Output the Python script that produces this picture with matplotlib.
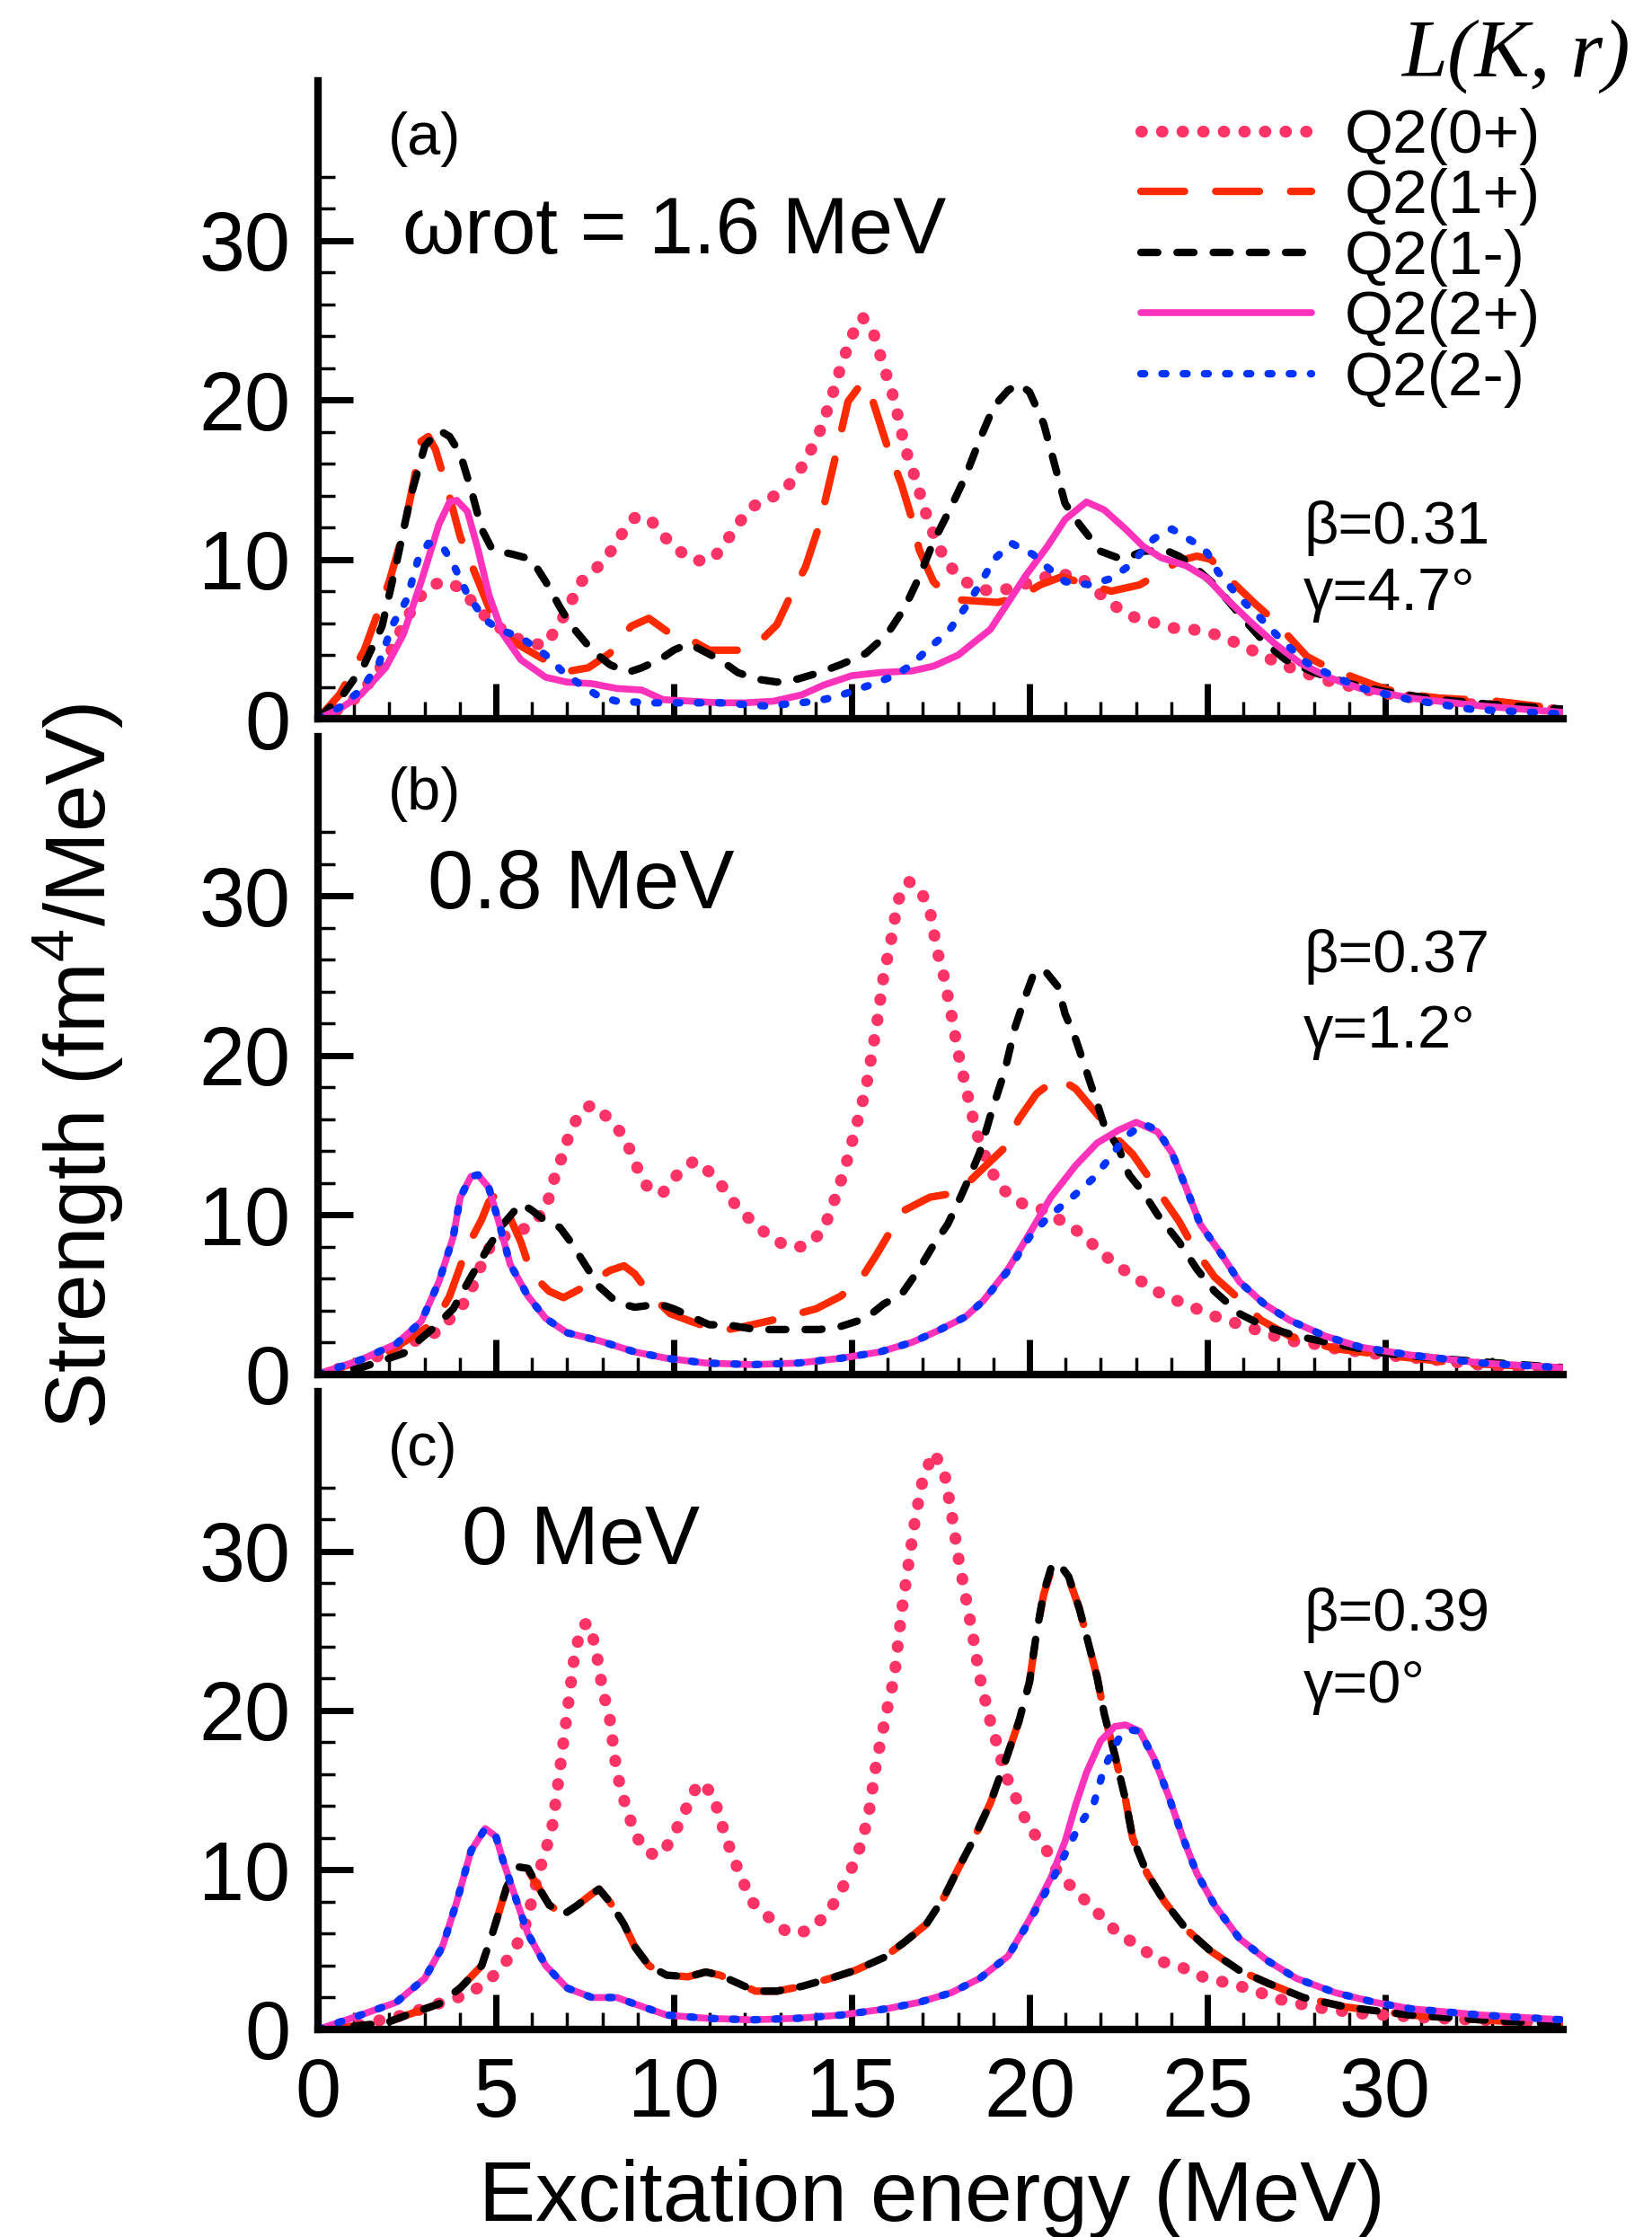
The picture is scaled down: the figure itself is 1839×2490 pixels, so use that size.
# Strength functions Q2(K,r) for three rotational frequencies, panels (a)-(c)

import numpy as np
import matplotlib.pyplot as plt
from matplotlib.ticker import FixedLocator

plt.rcParams['font.family'] = ['Liberation Sans', 'DejaVu Sans']
plt.rcParams['mathtext.fontset'] = 'custom'
plt.rcParams['mathtext.rm'] = 'Liberation Sans'
plt.rcParams['mathtext.it'] = 'Liberation Sans:italic'
plt.rcParams['mathtext.bf'] = 'Liberation Sans:bold'
plt.rcParams['lines.scale_dashes'] = False
plt.rcParams['lines.dash_capstyle'] = 'round'
plt.rcParams['lines.solid_capstyle'] = 'round'
plt.rcParams['lines.dash_joinstyle'] = 'round'
plt.rcParams['lines.solid_joinstyle'] = 'round'

#%% data: excitation energy (MeV) / strength (fm^4/MeV)

# (a) omega_rot = 1.6 MeV
e_a_0p = [0, 0.5, 1.0, 1.5, 2.0, 2.4, 2.8, 3.2, 3.6, 4.0,
          4.5, 4.8, 5.3, 5.8, 6.4, 6.9, 7.4, 7.9, 8.3, 8.6,
          8.9, 9.3, 9.7, 10.1, 10.6, 11.1, 11.5, 11.8, 12.2, 12.6,
          13.1, 13.5, 13.8, 14.1, 14.4, 14.7, 15.0, 15.3, 15.6, 15.9,
          16.2, 16.5, 16.8, 17.1, 17.4, 17.7, 18.2, 18.6, 19.1, 19.7,
          20.3, 20.8, 21.4, 21.8, 22.3, 22.9, 23.4, 24.0, 24.6, 25.2,
          26.0, 26.5, 27.1, 27.7, 28.5, 29.5, 30.5, 32.0, 33.5, 35.0]
s_a_0p = [0, 0.5, 1.2, 2.4, 4.0, 5.9, 7.5, 8.4, 8.6, 8.2,
          6.9, 6.2, 5.4, 4.8, 4.6, 6.4, 8.6, 9.6, 10.7, 11.8,
          12.6, 12.6, 11.5, 10.6, 9.9, 10.0, 11.2, 12.2, 13.3, 13.7,
          14.3, 15.4, 16.6, 18.0, 19.9, 22.1, 24.0, 25.2, 24.3, 22.1,
          20.0, 17.0, 15.0, 12.8, 11.0, 9.7, 8.6, 8.1, 8.0, 8.3,
          8.8, 9.1, 8.9, 8.2, 7.2, 6.4, 6.1, 5.7, 5.6, 5.3,
          4.6, 4.0, 3.4, 2.9, 2.3, 1.8, 1.4, 1.0, 0.7, 0.5]

e_a_1p = [0, 0.6, 1.3, 2.0, 2.4, 2.7, 2.9, 3.1, 3.3, 3.7,
          4.0, 4.4, 4.8, 5.3, 5.9, 6.6, 7.1, 7.6, 8.2, 8.8,
          9.3, 9.8, 10.6, 11.0, 11.8, 12.4, 12.9, 13.3, 13.7, 14.1,
          14.5, 14.9, 15.3, 15.6, 16.0, 16.4, 16.7, 16.9, 17.3, 17.8,
          18.4, 19.1, 19.7, 20.3, 20.9, 21.5, 22.3, 23.1, 23.7, 24.2,
          24.7, 25.1, 25.6, 26.3, 26.9, 27.8, 28.4, 29.7, 30.4, 31.5,
          33.1, 35.0]
s_a_1p = [0, 1.5, 4.3, 8.6, 11.7, 15.0, 17.4, 17.7, 16.9, 13.9,
          11.4, 9.2, 7.0, 5.1, 4.3, 3.4, 3.0, 3.2, 4.1, 5.8,
          6.3, 5.5, 4.8, 4.3, 4.3, 4.8, 5.9, 7.8, 9.5, 12.2,
          16.0, 19.9, 21.1, 19.9, 17.1, 14.7, 12.5, 10.6, 8.6, 7.5,
          7.4, 7.3, 7.6, 8.4, 8.9, 8.5, 8.0, 8.4, 9.2, 9.9,
          10.2, 10.0, 8.8, 7.3, 6.1, 3.9, 3.2, 2.1, 1.6, 1.3,
          1.1, 0.6]

e_a_1m = [0, 0.7, 1.3, 1.8, 2.2, 2.6, 3.0, 3.4, 3.7, 4.0,
          4.3, 4.6, 4.9, 5.5, 6.0, 6.4, 6.8, 7.1, 7.7, 8.2,
          8.7, 9.1, 9.6, 10.0, 10.4, 10.7, 11.3, 11.8, 12.3, 12.9,
          13.5, 14.1, 14.7, 15.4, 16.0, 16.5, 16.9, 17.3, 17.8, 18.2,
          18.6, 19.0, 19.4, 19.7, 20.0, 20.4, 20.7, 21.0, 21.4, 22.0,
          22.6, 23.2, 23.8, 24.2, 24.6, 25.2, 26.0, 26.6, 27.2, 28.0,
          29.0, 30.0, 31.5, 33.0, 35.0]
s_a_1m = [0, 1.5, 3.4, 5.8, 9.7, 13.9, 17.1, 18.1, 17.7, 16.6,
          14.4, 11.9, 10.6, 10.3, 10.0, 8.6, 7.0, 5.9, 4.3, 3.4,
          2.9, 3.2, 3.7, 4.3, 4.7, 4.4, 3.7, 2.9, 2.5, 2.3,
          2.5, 2.9, 3.4, 4.1, 5.3, 7.0, 8.9, 11.1, 13.3, 15.2,
          17.5, 19.6, 20.6, 21.0, 20.5, 18.5, 16.0, 13.5, 12.2, 10.5,
          10.0, 10.5, 10.6, 10.2, 9.6, 8.4, 6.3, 4.8, 3.7, 2.9,
          2.2, 1.7, 1.2, 0.9, 0.6]

e_a_2p = [0, 0.6, 1.2, 1.9, 2.4, 2.9, 3.4, 3.7, 3.9, 4.2,
          4.5, 4.8, 5.2, 5.7, 6.4, 7.0, 7.7, 8.4, 9.1, 9.7,
          10.5, 11.3, 12.0, 12.8, 13.6, 14.2, 15.0, 15.8, 16.7, 17.3,
          18.0, 18.5, 18.9, 19.4, 19.9, 20.5, 21.0, 21.6, 22.1, 22.7,
          23.2, 23.7, 24.4, 25.0, 25.5, 26.2, 26.9, 27.6, 28.4, 29.3,
          30.7, 32.7, 35.0]
s_a_2p = [0, 0.6, 1.5, 3.2, 5.3, 8.6, 12.2, 13.6, 13.7, 13.0,
          10.6, 7.8, 5.3, 3.7, 2.6, 2.3, 2.2, 1.9, 1.8, 1.2,
          1.1, 1.0, 1.0, 1.1, 1.5, 2.1, 2.7, 2.9, 3.0, 3.3,
          4.0, 4.9, 5.6, 7.3, 9.0, 10.8, 12.5, 13.6, 13.1, 11.9,
          10.8, 10.1, 9.6, 8.8, 7.6, 6.1, 4.7, 3.5, 2.6, 1.9,
          1.3, 0.8, 0.4]

e_a_2m = [0, 0.6, 1.2, 1.7, 2.1, 2.5, 2.8, 3.1, 3.5, 3.8,
          4.2, 4.7, 5.1, 5.7, 6.4, 6.9, 7.4, 7.9, 8.4, 9.3,
          10.2, 11.3, 12.6, 14.0, 14.6, 15.5, 16.2, 16.7, 17.2, 17.7,
          18.2, 18.6, 19.0, 19.5, 20.1, 20.5, 21.0, 21.7, 22.3, 22.8,
          23.5, 24.0, 24.6, 25.0, 25.3, 25.9, 26.5, 27.1, 27.8, 28.6,
          29.5, 30.7, 32.4, 35.0]
s_a_2m = [0, 0.7, 1.8, 3.4, 5.9, 7.5, 9.9, 11.0, 10.8, 9.7,
          7.8, 6.2, 5.6, 5.1, 4.0, 2.9, 2.1, 1.4, 1.1, 1.0,
          1.0, 1.0, 0.8, 1.1, 1.4, 2.1, 2.7, 3.4, 4.5, 5.4,
          7.0, 8.4, 10.0, 11.0, 10.3, 9.5, 8.6, 8.4, 8.8, 9.6,
          11.3, 11.9, 11.1, 10.4, 9.2, 7.6, 6.3, 4.9, 3.5, 2.6,
          1.8, 1.2, 0.6, 0.3]

# (b) omega_rot = 0.8 MeV
e_b_0p = [0, 1.2, 2.2, 3.4, 4.2, 4.6, 4.9, 5.5, 5.9, 6.4,
          6.6, 6.9, 7.1, 7.4, 7.7, 8.2, 8.6, 8.9, 9.1, 9.4,
          9.7, 10.2, 10.6, 11.1, 11.5, 11.8, 12.2, 12.7, 13.2, 13.7,
          14.2, 14.5, 14.8, 15.1, 15.4, 15.7, 15.9, 16.1, 16.3, 16.6,
          16.9, 17.2, 17.4, 17.6, 17.8, 18.0, 18.2, 18.5, 18.9, 19.3,
          19.8, 20.4, 20.9, 21.4, 21.9, 22.3, 22.8, 23.3, 23.8, 24.4,
          25.0, 25.5, 26.1, 26.6, 27.3, 28.0, 28.6, 30.0, 31.4, 33.4,
          35.0]
s_b_0p = [0, 0.7, 1.6, 2.7, 4.7, 6.9, 8.3, 8.9, 9.2, 10.3,
          12.0, 13.9, 15.3, 16.5, 16.9, 16.0, 14.9, 13.4, 12.2, 11.4,
          11.4, 12.8, 13.4, 12.5, 11.4, 10.4, 9.6, 8.6, 8.0, 8.0,
          9.0, 10.8, 12.8, 15.3, 17.9, 21.8, 25.0, 27.1, 29.7, 30.9,
          30.5, 29.1, 26.6, 24.9, 22.6, 20.1, 18.1, 15.2, 12.8, 11.5,
          10.7, 10.3, 9.6, 8.9, 7.9, 7.1, 6.3, 5.6, 4.9, 4.4,
          3.8, 3.4, 3.0, 2.6, 2.1, 1.9, 1.6, 1.2, 0.9, 0.4,
          0.3]

e_b_1p = [0, 1.9, 2.9, 3.3, 3.7, 4.2, 4.6, 4.8, 5.0, 5.3,
          5.7, 6.0, 6.5, 6.9, 7.5, 8.2, 8.6, 8.9, 9.3, 9.9,
          10.5, 11.3, 12.0, 12.8, 13.5, 14.0, 14.7, 15.3, 15.7, 16.1,
          16.5, 17.2, 18.0, 18.5, 19.3, 19.7, 20.2, 20.8, 21.3, 21.9,
          22.4, 22.9, 23.4, 24.2, 24.6, 25.2, 26.0, 26.5, 27.3, 28.6,
          30.0, 32.0, 35.0]
s_b_1p = [0, 1.3, 2.7, 3.3, 4.9, 8.0, 9.7, 10.8, 11.3, 10.3,
          8.3, 6.3, 5.2, 4.8, 5.5, 6.5, 6.8, 6.3, 5.1, 3.8,
          3.3, 2.7, 3.0, 3.4, 3.8, 4.1, 4.9, 6.1, 7.5, 9.0,
          10.3, 11.1, 11.4, 12.5, 14.2, 16.0, 17.6, 18.6, 17.9, 16.3,
          14.9, 13.8, 12.2, 9.6, 8.0, 6.1, 4.5, 3.4, 2.4, 1.6,
          1.2, 0.7, 0.4]

e_b_1m = [0, 1.2, 2.4, 3.3, 3.8, 4.3, 4.8, 5.2, 5.7, 6.0,
          6.4, 6.8, 7.1, 7.5, 7.9, 8.4, 8.9, 9.6, 10.0, 10.4,
          11.0, 11.5, 12.3, 13.1, 14.1, 14.7, 15.4, 15.9, 16.4, 16.9,
          17.3, 17.7, 18.0, 18.3, 18.6, 18.9, 19.3, 19.6, 19.9, 20.1,
          20.4, 20.8, 21.0, 21.3, 21.6, 21.9, 22.1, 22.5, 22.8, 23.2,
          23.6, 24.2, 24.7, 25.2, 25.9, 26.6, 27.5, 28.6, 30.0, 32.0,
          35.0]
s_b_1m = [0, 0.4, 1.3, 3.0, 4.1, 6.1, 8.0, 9.4, 10.7, 10.3,
          9.6, 9.2, 8.3, 6.9, 5.5, 4.5, 4.2, 4.4, 4.1, 3.7,
          3.1, 3.1, 2.8, 2.8, 2.8, 3.0, 3.5, 4.4, 5.0, 6.6,
          8.1, 9.4, 10.8, 12.3, 13.9, 16.2, 19.0, 21.8, 23.8, 25.0,
          25.4, 24.3, 22.6, 21.0, 19.0, 17.0, 15.6, 14.2, 12.5, 11.4,
          10.0, 8.3, 6.6, 5.2, 3.8, 3.0, 2.4, 1.9, 1.3, 0.9,
          0.4]

e_b_2p = [0, 1.2, 2.2, 2.9, 3.4, 3.8, 4.0, 4.3, 4.5, 4.8,
          5.1, 5.4, 5.9, 6.4, 7.0, 7.9, 8.9, 9.8, 10.9, 12.2,
          13.5, 14.7, 15.8, 16.7, 17.4, 18.2, 18.7, 19.4, 20.1, 20.6,
          21.3, 21.9, 22.5, 23.0, 23.6, 24.0, 24.4, 24.8, 25.4, 25.9,
          26.6, 27.3, 28.3, 29.3, 30.7, 32.7, 35.0]
s_b_2p = [0, 0.9, 1.9, 3.3, 5.8, 8.6, 11.1, 12.4, 12.5, 11.7,
          9.4, 6.9, 4.9, 3.5, 2.6, 2.1, 1.4, 1.0, 0.7, 0.6,
          0.7, 1.0, 1.4, 2.0, 2.7, 3.6, 4.6, 6.6, 9.2, 11.1,
          13.1, 14.5, 15.3, 15.8, 15.2, 13.9, 11.7, 9.4, 7.5, 5.8,
          4.4, 3.4, 2.4, 1.7, 1.2, 0.7, 0.4]

e_b_2m = [0, 1.2, 2.2, 2.9, 3.4, 3.8, 4.0, 4.3, 4.5, 4.8,
          5.1, 5.4, 5.9, 6.4, 7.0, 7.9, 8.9, 9.8, 10.9, 12.2,
          13.5, 14.7, 15.8, 16.7, 17.4, 18.2, 18.7, 19.4, 20.0, 20.5,
          21.2, 21.8, 22.3, 22.7, 23.2, 23.6, 24.0, 24.4, 24.8, 25.4,
          25.9, 26.6, 27.3, 28.3, 29.3, 30.7, 32.7, 35.0]
s_b_2m = [0, 0.9, 1.9, 3.3, 5.8, 8.6, 11.1, 12.4, 12.5, 11.7,
          9.4, 6.9, 4.9, 3.5, 2.6, 2.1, 1.4, 1.0, 0.7, 0.6,
          0.7, 1.0, 1.4, 2.0, 2.7, 3.6, 4.6, 6.5, 8.6, 9.8,
          11.1, 12.3, 13.7, 14.9, 15.7, 15.3, 13.9, 11.7, 9.4, 7.5,
          5.8, 4.4, 3.4, 2.4, 1.7, 1.2, 0.7, 0.4]

# (c) omega_rot = 0
e_c_0p = [0, 1.2, 2.4, 3.5, 4.2, 4.7, 5.1, 5.5, 5.8, 6.0,
          6.2, 6.4, 6.6, 6.8, 7.0, 7.2, 7.4, 7.6, 7.8, 8.0,
          8.2, 8.4, 8.6, 8.9, 9.2, 9.5, 9.7, 10.0, 10.4, 10.7,
          11.1, 11.3, 11.6, 11.9, 12.2, 12.6, 12.9, 13.3, 13.8, 14.2,
          14.6, 15.0, 15.3, 15.5, 15.7, 16.0, 16.2, 16.4, 16.6, 16.8,
          17.0, 17.3, 17.6, 17.8, 18.0, 18.2, 18.4, 18.6, 18.9, 19.1,
          19.3, 19.7, 20.0, 20.4, 20.8, 21.2, 21.7, 22.1, 22.5, 23.1,
          23.6, 24.2, 24.7, 25.4, 26.1, 27.0, 28.0, 29.3, 31.4, 35.0]
s_c_0p = [0, 0.3, 0.9, 1.7, 2.2, 2.9, 3.7, 4.9, 6.3, 8.0,
          9.8, 11.2, 12.9, 16.3, 19.8, 23.3, 25.3, 25.5, 24.0, 21.3,
          19.5, 16.1, 14.4, 12.3, 11.2, 10.9, 11.1, 12.2, 14.1, 15.5,
          14.8, 13.2, 11.2, 9.5, 8.0, 7.2, 6.5, 6.0, 6.2, 7.0,
          8.2, 10.1, 11.8, 13.8, 16.8, 20.1, 22.1, 26.1, 29.2, 32.2,
          34.5, 36.2, 35.0, 32.5, 29.6, 27.2, 24.8, 22.1, 19.3, 17.8,
          16.1, 14.1, 12.6, 11.6, 9.8, 8.9, 7.8, 6.9, 6.0, 5.2,
          4.3, 4.0, 3.4, 3.0, 2.6, 1.9, 1.4, 1.0, 0.7, 0.4]

e_c_1p = [0, 1.9, 2.5, 3.4, 4.0, 4.6, 4.9, 5.3, 5.6, 5.9,
          6.2, 6.5, 6.9, 7.3, 7.7, 7.9, 8.2, 8.6, 8.9, 9.3,
          9.8, 10.4, 10.9, 11.3, 11.8, 12.3, 12.9, 13.6, 14.4, 15.1,
          15.9, 16.5, 17.1, 17.6, 18.0, 18.4, 18.9, 19.3, 19.7, 20.0,
          20.2, 20.4, 20.6, 20.8, 21.1, 21.4, 21.6, 21.9, 22.1, 22.4,
          22.7, 22.9, 23.3, 23.8, 24.4, 25.1, 25.9, 26.7, 27.7, 28.9,
          30.7, 32.7, 35.0]
s_c_1p = [0, 0.4, 0.9, 1.6, 2.6, 4.0, 6.0, 8.9, 10.1, 10.0,
          8.9, 7.8, 7.2, 7.8, 8.5, 8.8, 8.0, 6.6, 5.2, 4.0,
          3.4, 3.3, 3.6, 3.4, 2.9, 2.4, 2.4, 2.7, 3.2, 3.7,
          4.5, 5.5, 6.6, 8.3, 10.1, 11.8, 14.2, 16.7, 19.3, 21.8,
          24.9, 27.3, 28.7, 29.0, 28.3, 26.4, 24.7, 22.1, 19.8, 17.2,
          14.4, 12.0, 9.8, 8.0, 6.3, 4.9, 3.7, 2.9, 2.0, 1.4,
          0.9, 0.6, 0.3]

e_c_1m = [0, 1.9, 2.5, 3.4, 4.0, 4.6, 4.9, 5.3, 5.6, 5.9,
          6.2, 6.5, 6.9, 7.3, 7.7, 7.9, 8.2, 8.6, 8.9, 9.3,
          9.8, 10.4, 10.9, 11.3, 11.8, 12.3, 12.9, 13.6, 14.4, 15.1,
          15.9, 16.5, 17.1, 17.6, 18.0, 18.4, 18.9, 19.3, 19.7, 20.0,
          20.2, 20.4, 20.6, 20.8, 21.1, 21.4, 21.6, 21.9, 22.1, 22.4,
          22.7, 22.9, 23.3, 23.8, 24.4, 25.1, 25.9, 26.7, 27.7, 28.9,
          30.7, 32.7, 35.0]
s_c_1m = [0, 0.4, 0.9, 1.6, 2.6, 4.0, 6.0, 8.9, 10.2, 10.1,
          8.9, 7.8, 7.2, 7.8, 8.5, 8.8, 8.0, 6.6, 5.2, 4.0,
          3.4, 3.3, 3.6, 3.4, 2.9, 2.4, 2.4, 2.7, 3.2, 3.7,
          4.5, 5.5, 6.6, 8.3, 10.1, 11.8, 14.2, 16.7, 19.3, 21.8,
          24.9, 27.4, 28.9, 29.3, 28.4, 26.4, 24.7, 22.1, 19.8, 17.2,
          14.4, 12.0, 9.8, 8.0, 6.3, 4.9, 3.7, 2.9, 2.0, 1.4,
          0.9, 0.6, 0.3]

e_c_2p = [0, 1.2, 2.2, 3.0, 3.5, 3.9, 4.3, 4.7, 5.0, 5.2,
          5.5, 5.9, 6.4, 7.0, 7.7, 8.4, 8.9, 9.8, 10.9, 12.2,
          13.5, 14.7, 16.0, 16.9, 17.8, 18.6, 19.4, 20.0, 20.6, 21.0,
          21.3, 21.6, 22.0, 22.4, 22.7, 23.1, 23.5, 23.9, 24.3, 24.7,
          25.2, 25.9, 26.7, 27.5, 28.6, 29.7, 30.7, 32.7, 35.0]
s_c_2p = [0, 0.9, 1.7, 3.2, 5.2, 8.0, 11.2, 12.6, 12.1, 10.6,
          8.6, 6.0, 4.0, 2.6, 2.0, 2.0, 1.6, 0.9, 0.7, 0.6,
          0.7, 0.9, 1.3, 1.7, 2.3, 3.2, 4.6, 6.9, 9.5, 11.8,
          14.1, 16.1, 18.1, 19.0, 19.1, 18.7, 17.0, 14.7, 12.1, 9.8,
          7.8, 5.7, 4.3, 3.2, 2.3, 1.7, 1.3, 0.9, 0.6]

e_c_2m = [0, 1.2, 2.2, 3.0, 3.5, 3.9, 4.3, 4.7, 5.0, 5.2,
          5.5, 5.9, 6.4, 7.0, 7.7, 8.4, 8.9, 9.8, 10.9, 12.2,
          13.5, 14.7, 16.0, 16.9, 17.8, 18.6, 19.4, 20.0, 20.6, 21.0,
          21.4, 21.8, 22.1, 22.5, 22.8, 23.1, 23.5, 23.9, 24.3, 24.7,
          25.2, 25.9, 26.7, 27.5, 28.6, 29.7, 30.7, 32.7, 35.0]
s_c_2m = [0, 0.9, 1.7, 3.2, 5.2, 8.0, 11.2, 12.6, 12.1, 10.6,
          8.6, 6.0, 4.0, 2.6, 2.0, 2.0, 1.6, 0.9, 0.7, 0.6,
          0.7, 0.9, 1.3, 1.7, 2.3, 3.2, 4.6, 6.8, 9.2, 11.0,
          12.8, 14.1, 16.4, 18.2, 18.8, 18.7, 17.0, 14.7, 12.1, 9.8,
          7.8, 5.7, 4.3, 3.2, 2.3, 1.7, 1.3, 0.9, 0.6]

labels = ['Q2(0+)', 'Q2(1+)', 'Q2(1-)', 'Q2(2+)', 'Q2(2-)']
panel_tags = ['(a)', '(b)', '(c)']
omega_text = ['\u03c9rot = 1.6 MeV', '0.8 MeV', '0 MeV']
beta_text = ['\u03b2=0.31', '\u03b2=0.37', '\u03b2=0.39']
gamma_text = ['\u03b3=4.7\u00b0', '\u03b3=1.2\u00b0', '\u03b3=0\u00b0']

#%% styles
colors = ['#ff3366', '#ff2a00', 'black', '#ff33bb', '#0033ff']
widths = [9.5, 6.0, 6.0, 5.5, 6.0]
styles = [(0, (0.5, 16.0)), (0, (35.0, 25.0)), (0, (13.5, 15.5)), '-', (0, (3.0, 14.0))]

panels = [
    [(e_a_0p, s_a_0p), (e_a_1p, s_a_1p), (e_a_1m, s_a_1m), (e_a_2p, s_a_2p), (e_a_2m, s_a_2m)],
    [(e_b_0p, s_b_0p), (e_b_1p, s_b_1p), (e_b_1m, s_b_1m), (e_b_2p, s_b_2p), (e_b_2m, s_b_2m)],
    [(e_c_0p, s_c_0p), (e_c_1p, s_c_1p), (e_c_1m, s_c_1m), (e_c_2p, s_c_2p), (e_c_2m, s_c_2m)],
]

fig = plt.figure(figsize=(18.39, 24.90), dpi=100)

left, width, height = 0.1925, 0.7537, 0.2851
bottoms = [0.6787, 0.3857, 0.0928]
omega_x = [2.37, 3.08, 4.04]
omega_size = [64, 66, 66]
beta_y = [(11.0, 6.8), (25.2, 20.5), (25.0, 20.5)]

axes = []
for i in range(3):
    ax = fig.add_axes([left, bottoms[i], width, height])
    for k in range(5):
        e, s = panels[i][k]
        ax.plot(e, s, color=colors[k], lw=widths[k], linestyle=styles[k], label=labels[k])

    ax.set_xlim(0, 35)
    ax.set_ylim(0, 40)
    ax.spines['top'].set_visible(False)
    ax.spines['right'].set_visible(False)
    for sp in ['left', 'bottom']:
        ax.spines[sp].set_linewidth(6)
        ax.spines[sp].set_capstyle('projecting')

    ax.xaxis.set_major_locator(FixedLocator([0, 5, 10, 15, 20, 25, 30]))
    ax.xaxis.set_minor_locator(FixedLocator([v for v in range(1, 34) if v % 5]))
    ax.yaxis.set_major_locator(FixedLocator([0, 10, 20, 30]))
    ax.yaxis.set_minor_locator(FixedLocator([v for v in range(2, 35, 2) if v % 10]))
    ax.tick_params(which='major', direction='in', length=28, width=5, labelsize=66, pad=22,
                   top=False, right=False)
    ax.tick_params(which='minor', direction='in', length=14, width=2.5, top=False, right=False)
    if i < 2:
        ax.tick_params(labelbottom=False)

    ax.text(1.97, 35.4, panel_tags[i], fontsize=48, va='baseline')
    ax.text(omega_x[i], 29.2, omega_text[i], fontsize=omega_size[i], va='baseline')
    ax.text(27.7, beta_y[i][0], beta_text[i], fontsize=48, va='baseline')
    ax.text(27.7, beta_y[i][1], gamma_text[i], fontsize=48, va='baseline')
    axes.append(ax)

handles, labs = axes[0].get_legend_handles_labels()
fig.legend(handles, labs, loc='upper left', bbox_to_anchor=(1270 / 1839, 1 - 120 / 2490),
           frameon=False, fontsize=50, handlelength=2.74, handletextpad=0.52,
           labelspacing=0.05, borderpad=0, borderaxespad=0)

fig.text(1815 / 1839, 1 - 85 / 2490, 'L(K, r)', family='Liberation Serif', style='italic',
         fontsize=66, ha='right', va='baseline')

fig.text(0.564, 0.0072, 'Excitation energy (MeV)', fontsize=68, ha='center', va='baseline')
fig.text(0.0473, 0.5233, r'Strength (fm$^{\mathrm{4}}$/MeV)', fontsize=68, rotation=90,
         ha='center', va='center')

fig.savefig('out.png', dpi=100)
